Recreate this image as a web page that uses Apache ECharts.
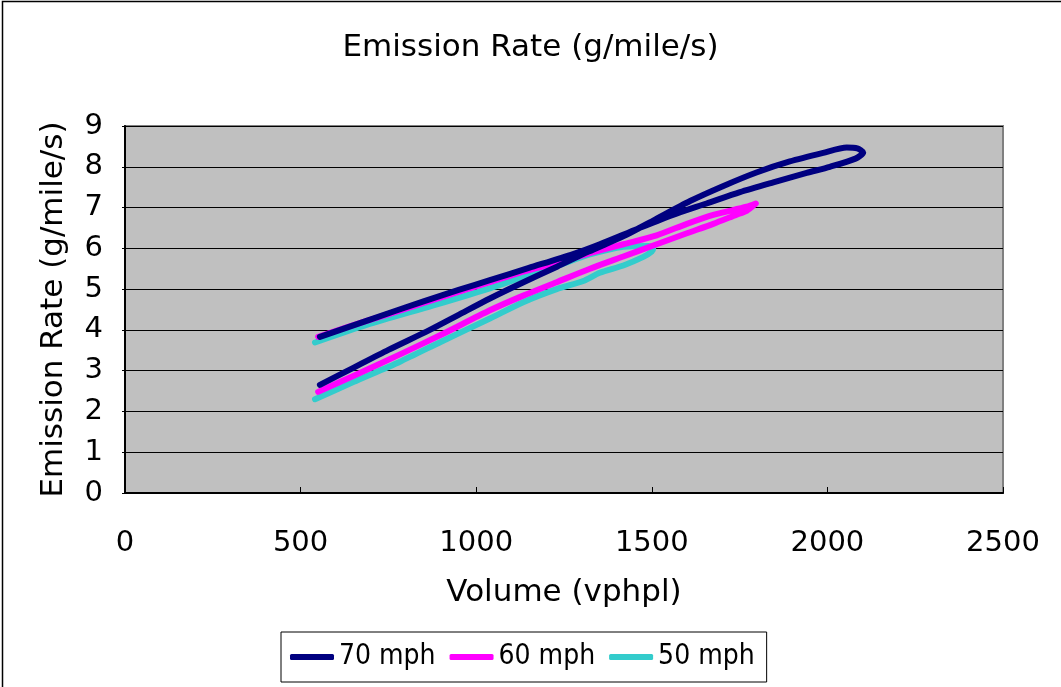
<!DOCTYPE html>
<html>
<head>
<meta charset="utf-8">
<script src="https://cdn.jsdelivr.net/npm/echarts@6/dist/echarts.min.js"></script>
<style>
  html, body { margin: 0; padding: 0; background: #fff; }
  #chart { width: 1061px; height: 687px; }
</style>
</head>
<body>
<div id="chart"></div>
<script>
// Emission rate vs. volume hysteresis loops, one per speed.
const seriesNames = ['70 mph', '60 mph', '50 mph'];
const seriesColors = ['#000080', '#ff00ff', '#33cccc'];

// 70 mph: loading branch up to the tip, then unloading branch back down
const vol70 = [555, 650, 750, 868, 950, 1039, 1130, 1230, 1320, 1420, 1504, 1609, 1704, 1798, 1893, 1988, 2055, 2085, 2102,
               2080, 2007, 1941, 1846, 1751, 1656, 1560, 1460, 1352, 1276, 1150, 1039, 950, 850, 700, 555];
const rate70 = [2.65, 3.07, 3.51, 4.0, 4.37, 4.77, 5.15, 5.55, 5.92, 6.3, 6.68, 7.16, 7.53, 7.86, 8.13, 8.34, 8.47, 8.45, 8.35,
                8.2, 8.0, 7.85, 7.62, 7.38, 7.1, 6.82, 6.48, 6.1, 5.86, 5.52, 5.22, 4.98, 4.7, 4.26, 3.83];

// 60 mph
const vol60 = [550, 650, 783, 900, 1039, 1134, 1229, 1324, 1419, 1514, 1600, 1675, 1740, 1770, 1796,
               1770, 1675, 1600, 1514, 1419, 1324, 1229, 1134, 1039, 900, 800, 688, 550];
const rate60 = [2.48, 2.87, 3.4, 3.88, 4.48, 4.84, 5.17, 5.5, 5.8, 6.1, 6.37, 6.6, 6.82, 6.92, 7.1,
                7.02, 6.82, 6.6, 6.32, 6.1, 5.88, 5.64, 5.43, 5.17, 4.8, 4.52, 4.22, 3.83];

// 50 mph
const vol50 = [541, 650, 783, 900, 1039, 1134, 1229, 1305, 1352, 1419, 1476, 1500, 1504,
               1490, 1419, 1324, 1229, 1134, 1039, 878, 688, 541];
const rate50 = [2.3, 2.72, 3.22, 3.71, 4.28, 4.68, 5.0, 5.2, 5.4, 5.58, 5.79, 5.92, 6.0,
                6.06, 6.04, 5.85, 5.57, 5.3, 5.02, 4.6, 4.12, 3.69];

const xTicks = [0, 500, 1000, 1500, 2000, 2500];
const yTicks = [0, 1, 2, 3, 4, 5, 6, 7, 8, 9];

const volumes = [vol70, vol60, vol50];
const rates = [rate70, rate60, rate50];

function pairs(xs, ys) {
  return xs.map((x, i) => [x, ys[i]]);
}

const FONT = 'DejaVu Sans';

const chart = echarts.init(document.getElementById('chart'), null, { renderer: 'canvas' });

chart.setOption({
  backgroundColor: '#ffffff',
  animation: false,
  title: {
    text: 'Emission Rate (g/mile/s)',
    left: 'center',
    top: 27,
    textStyle: { fontFamily: FONT, fontSize: 31, fontWeight: 'normal', color: '#000' }
  },
  grid: {
    left: 125, top: 126, right: 58, bottom: 194,
    show: true,
    backgroundColor: '#c0c0c0',
    borderColor: '#808080',
    borderWidth: 2
  },
  legend: {
    data: seriesNames,
    left: 281,
    top: 632,
    padding: [11, 12, 11, 9],
    borderColor: '#000',
    borderWidth: 1,
    backgroundColor: '#fff',
    itemWidth: 44,
    itemHeight: 6,
    itemGap: 14,
    icon: 'roundRect',
    textStyle: { fontFamily: "'DejaVu Sans Condensed', 'DejaVu Sans'", fontSize: 28, color: '#000' }
  },
  xAxis: {
    type: 'value',
    min: xTicks[0],
    max: xTicks[xTicks.length - 1],
    interval: xTicks[1] - xTicks[0],
    name: 'Volume (vphpl)',
    nameLocation: 'middle',
    nameGap: 84,
    nameTextStyle: { fontFamily: FONT, fontSize: 31, color: '#000' },
    axisLine: { show: true, lineStyle: { color: '#000', width: 2 } },
    axisTick: { show: true, inside: true, length: 6, lineStyle: { color: '#000' } },
    axisLabel: { fontFamily: FONT, fontSize: 29, color: '#000', margin: 36, formatter: (v) => String(v) },
    splitLine: { show: false }
  },
  yAxis: {
    type: 'value',
    min: yTicks[0],
    max: yTicks[yTicks.length - 1],
    interval: yTicks[1] - yTicks[0],
    name: 'Emission Rate (g/mile/s)',
    nameLocation: 'middle',
    nameGap: 56,
    nameTextStyle: { fontFamily: FONT, fontSize: 31, color: '#000' },
    axisLine: { show: true, lineStyle: { color: '#000', width: 2 } },
    axisTick: { show: true, inside: false, length: 3, lineStyle: { color: '#000' } },
    axisLabel: { fontFamily: FONT, fontSize: 29, color: '#000', margin: 22, formatter: (v) => String(v) },
    splitLine: { show: true, lineStyle: { color: '#000', width: 1 } }
  },
  series: seriesNames.map((name, i) => ({
    name: name,
    type: 'line',
    data: pairs(volumes[i], rates[i]),
    smooth: 0.25,
    showSymbol: false,
    symbol: 'none',
    color: seriesColors[i],
    lineStyle: { color: seriesColors[i], width: 6, cap: 'round', join: 'round' },
    z: 3 - i
  })),
  graphic: [{
    type: 'rect',
    shape: { x: 2.5, y: 1.5, width: 1200, height: 800 },
    style: { fill: null, stroke: '#000', lineWidth: 1.5 },
    silent: true,
    z: 100
  }]
});
</script>
</body>
</html>
